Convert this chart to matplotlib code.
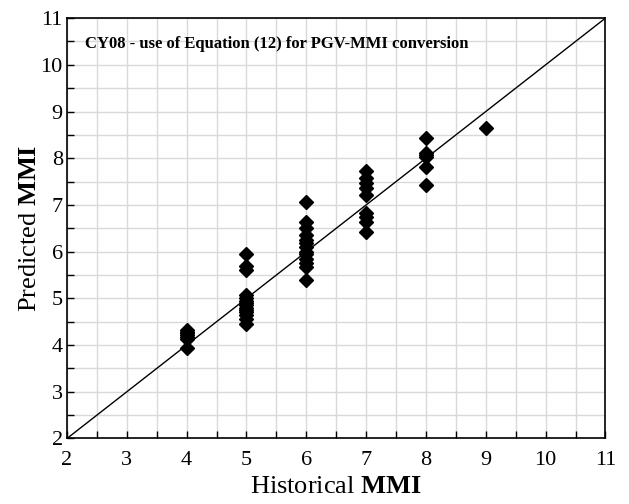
import numpy as np
import matplotlib
matplotlib.use('Agg')
import matplotlib.pyplot as plt
from matplotlib.ticker import MultipleLocator

plt.rcParams['font.family'] = ['Liberation Serif', 'DejaVu Serif']
plt.rcParams['mathtext.fontset'] = 'custom'
plt.rcParams['mathtext.rm'] = 'Liberation Serif'
plt.rcParams['mathtext.bf'] = 'Liberation Serif:bold'

# Historical vs predicted MMI (CY08, PGV-MMI conversion)
mmi4 = [4.33, 4.29, 4.25, 4.21, 4.17, 4.12, 3.93]
mmi5 = [5.95, 5.70, 5.60, 5.08, 5.01, 4.95, 4.90, 4.85, 4.80, 4.75, 4.70, 4.65, 4.55, 4.45]
mmi6 = [7.07, 6.63, 6.50, 6.35, 6.25, 6.18, 6.10, 6.00, 5.95, 5.85, 5.75, 5.68, 5.40]
mmi7 = [7.73, 7.58, 7.47, 7.36, 7.21, 6.82, 6.75, 6.64, 6.42]
mmi8 = [8.44, 8.11, 8.07, 8.03, 7.81, 7.43]
mmi9 = [8.65]

hist = np.concatenate([[4] * len(mmi4), [5] * len(mmi5), [6] * len(mmi6),
                       [7] * len(mmi7), [8] * len(mmi8), [9] * len(mmi9)])
pred = np.concatenate([mmi4, mmi5, mmi6, mmi7, mmi8, mmi9])

fig = plt.figure(figsize=(6.29, 5.04), dpi=100)
ax = fig.add_axes([0.1065, 0.13, 0.856, 0.834])

ax.plot([2, 11], [2, 11], 'k-', lw=1.0, zorder=2)
ax.plot(hist, pred, 'kD', ms=7, mec='k', zorder=3)

ax.set_xlim(2, 11)
ax.set_ylim(2, 11)
ax.xaxis.set_major_locator(MultipleLocator(1))
ax.yaxis.set_major_locator(MultipleLocator(1))
ax.xaxis.set_minor_locator(MultipleLocator(0.5))
ax.yaxis.set_minor_locator(MultipleLocator(0.5))
ax.grid(True, which='both', color='#d9d9d9', lw=1.0, zorder=0)
ax.set_axisbelow(True)
ax.tick_params(which='both', direction='in', length=5, width=1, labelsize=16,
               top=False, right=False)
ax.tick_params(axis='x', pad=9)
ax.tick_params(axis='y', pad=3)
for s in ax.spines.values():
    s.set_linewidth(1.2)

ax.set_xlabel(r'Historical $\mathbf{MMI}$', fontsize=19, labelpad=4)
ax.set_ylabel(r'Predicted $\mathbf{MMI}$', fontsize=19, labelpad=0)
ax.text(0.39, 0.938, 'CY08 - use of Equation (12) for PGV-MMI conversion',
        transform=ax.transAxes, ha='center', va='center', fontsize=12,
        fontweight='bold')

fig.savefig('out.png', dpi=100)
